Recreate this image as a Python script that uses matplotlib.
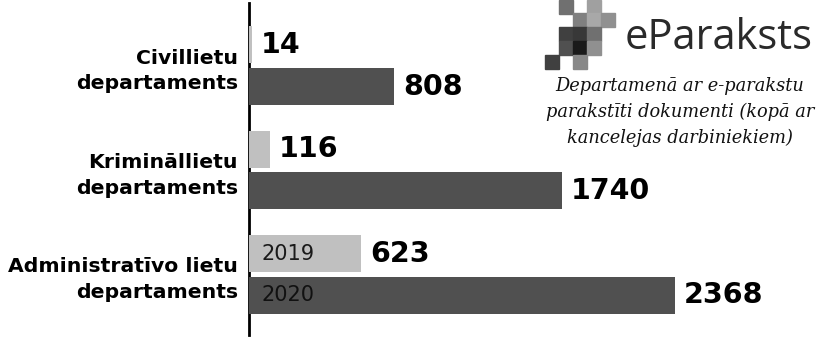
import matplotlib
matplotlib.use("Agg")
import matplotlib.pyplot as plt
from matplotlib.patches import Rectangle
import numpy as np

departamenti = ["Civillietu\ndepartaments", "Krimināllietu\ndepartaments", "Administratīvo lietu\ndepartaments"]
gadi = ["2019", "2020"]
vertibas_2019 = [14, 116, 623]
vertibas_2020 = [808, 1740, 2368]

GAISS = "#c0c0c0"
TUMSS = "#505050"

fig = plt.figure(figsize=(8.3, 3.4), dpi=100)
ax = fig.add_axes([249 / 830, 5 / 340, 581 / 830, 332 / 340])

y = np.arange(len(departamenti))
augstums = 0.355
nobide = 0.2

stabi_2019 = ax.barh(y - nobide, vertibas_2019, height=augstums, color=GAISS, zorder=3)
stabi_2020 = ax.barh(y + nobide, vertibas_2020, height=augstums, color=TUMSS, zorder=3)

ax.set_xlim(0, 3228)
ax.set_ylim(2.58, -0.6)

for stabi, vertibas in [(stabi_2019, vertibas_2019), (stabi_2020, vertibas_2020)]:
    for stabs, v in zip(stabi, vertibas):
        ax.annotate(str(v), (v, stabs.get_y() + stabs.get_height() / 2),
                    xytext=(6.5, 0), textcoords="offset points",
                    ha="left", va="center", fontsize=20.5, fontweight="bold",
                    family="DejaVu Sans", color="black")

# gadu nosaukumi pēdējā grupā
ax.text(70, y[-1] - nobide, gadi[0], ha="left", va="center", fontsize=15,
        family="DejaVu Sans", color="#1a1a1a", zorder=4)
ax.text(70, y[-1] + nobide, gadi[1], ha="left", va="center", fontsize=15,
        family="DejaVu Sans", color="#111111", zorder=4)

for s in ["top", "right", "bottom"]:
    ax.spines[s].set_visible(False)
ax.spines["left"].set_linewidth(2)
ax.spines["left"].set_color("black")

ax.set_yticks(y)
ax.set_yticklabels(departamenti, fontsize=14.7, fontweight="bold", family="DejaVu Sans",
                   linespacing=1.45)
ax.tick_params(axis="y", length=0, pad=8)
ax.set_xticks([])

# eParaksts logo
kvadrati = [
    (559, 0, "#707070"), (587, 0, "#a0a0a0"),
    (573, 13, "#808080"), (587, 13, "#a8a8a8"), (601, 13, "#909090"),
    (559, 27, "#404040"), (573, 27, "#383838"), (587, 27, "#707070"),
    (559, 41, "#505050"), (573, 41, "#1a1a1a"), (587, 41, "#909090"),
    (545, 55, "#404040"), (573, 55, "#888888"),
]
for kx, ky, krasa in kvadrati:
    fig.patches.append(Rectangle((kx / 830, 1 - (ky + 14) / 340), 14 / 830, 14 / 340,
                                 transform=fig.transFigure, color=krasa, zorder=5))

fig.text(719 / 830, 1 - 38 / 340, "eParaksts", ha="center", va="center",
         fontsize=30, family="Open Sans", color="#2a2a2a")
fig.text(680 / 830, 1 - 112 / 340,
         "Departamenā ar e-parakstu\nparakstīti dokumenti (kopā ar\nkancelejas darbiniekiem)",
         ha="center", va="center", fontsize=12.8, family="DejaVu Serif", style="italic",
         color="#111111", linespacing=1.55)

fig.savefig("out.png", dpi=100)
